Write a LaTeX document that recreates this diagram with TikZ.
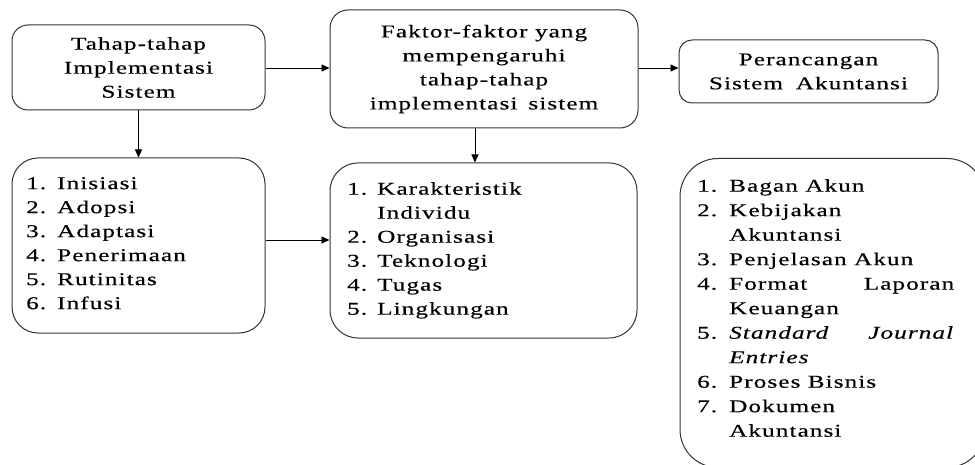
\documentclass[tikz,border=0pt]{standalone}
\usepackage{fontspec}
\setmainfont{Liberation Serif}[FakeStretch=1.4, LetterSpace=6, FakeBold=0.4]
\usetikzlibrary{arrows.meta}
\tikzset{
  bx/.style={draw=black!80, line width=1pt, fill=white},
  txt/.style={font=\fontsize{18}{24}\selectfont, inner sep=0pt, align=center},
  lst/.style={font=\fontsize{18}{24}\selectfont, inner sep=0pt, align=left, anchor=north west},
  lstF/.style={font=\fontsize{18}{24.5}\selectfont, inner sep=0pt, align=left, anchor=north west},
  arr/.style={-{Triangle[length=8pt,width=7pt]}, line width=0.9pt, draw=black}
}
\newcommand{\nb}[2]{\makebox[#1][l]{#2}}
\newcommand{\nf}[1]{\makebox[32pt][l]{#1}}
\begin{document}
\begin{tikzpicture}[x=1pt,y=-1pt]
\useasboundingbox (0,0) rectangle (975,465);
% boxes
\node[bx, rounded corners=16pt, minimum width=253pt, minimum height=85pt] (A) at (138.5,67.5) {};
\node[bx, rounded corners=18pt, minimum width=308pt, minimum height=118pt] (B) at (484,69) {};
\node[bx, rounded corners=13pt, minimum width=259pt, minimum height=63pt] (C) at (808.5,71.5) {};
\node[bx, rounded corners=26pt, minimum width=253pt, minimum height=175pt] (D) at (138.5,245.5) {};
\node[bx, rounded corners=28pt, minimum width=307pt, minimum height=175pt] (E) at (483.5,250.5) {};
\begin{scope}
\clip (0,0) rectangle (975,465);
\node[bx, rounded corners=38pt, minimum width=305pt, minimum height=309pt] (F) at (832.5,313) {};
\end{scope}
% centered texts
\node[txt] (tA) at (A.center) {Tahap-tahap\\Implementasi\\Sistem};
\node[txt] (tB) at (B.center) {Faktor-faktor yang\\mempengaruhi\\tahap-tahap\\implementasi\hspace{0.2em} sistem};
\node[txt] (tC) at (C.center) {Perancangan\\Sistem\hspace{0.3em} Akuntansi};
% lists
\node[lst] (tD) at (26,177) {\nb{31pt}{1.}Inisiasi\\\nb{31pt}{2.}Adopsi\\\nb{31pt}{3.}Adaptasi\\\nb{31pt}{4.}Penerimaan\\\nb{31pt}{5.}Rutinitas\\\nb{31pt}{6.}Infusi};
\node[lst] (tE) at (347,182) {\nb{30pt}{1.}Karakteristik\\\hspace*{30pt}Individu\\\nb{30pt}{2.}Organisasi\\\nb{30pt}{3.}Teknologi\\\nb{30pt}{4.}Tugas\\\nb{30pt}{5.}Lingkungan};
\node[lstF] (tF) at (697,179) {\nf{1.}Bagan Akun\\
\nf{2.}Kebijakan\\
\hspace*{32pt}Akuntansi\\
\nf{3.}Penjelasan Akun\\
\makebox[257pt][l]{\nf{4.}Format\hfill Laporan}\\
\hspace*{32pt}Keuangan\\
\makebox[257pt][l]{\nf{5.}\textit{Standard}\hfill\textit{Journal}}\\
\hspace*{32pt}\textit{Entries}\\
\nf{6.}Proses Bisnis\\
\nf{7.}Dokumen\\
\hspace*{32pt}Akuntansi};
% connectors
\draw[arr] (A.east |- 0,68) -- (B.west |- 0,68);
\draw[arr] (B.east |- 0,68) -- (C.west |- 0,68);
\draw[arr] (A.south) -- (D.north);
\draw[arr] (B.south -| 475,0) -- (E.north -| 475,0);
\draw[arr] (D.east |- 0,240) -- (E.west |- 0,240);
\end{tikzpicture}
\end{document}
